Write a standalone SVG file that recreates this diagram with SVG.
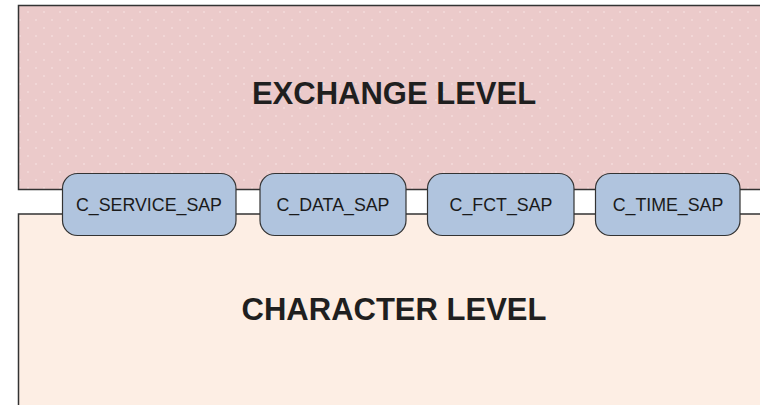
<svg xmlns="http://www.w3.org/2000/svg" width="760" height="405" viewBox="0 0 760 405">
<style>
.level{stroke:#333;stroke-width:1.5}
.sap rect{fill:#b0c4de;stroke:#333;stroke-width:1.2}
.sap text{font-family:"Liberation Sans",Arial,sans-serif;font-size:17.8px;fill:#1a1a1a;text-anchor:middle}
.title{font-family:"Liberation Sans",Arial,sans-serif;font-size:31px;font-weight:bold;fill:#1f1f1f;text-anchor:middle}
</style>
<defs>
<pattern id="dots" width="16" height="16" patternUnits="userSpaceOnUse">
<rect width="16" height="16" fill="#ebcaca"/>
<circle cx="4" cy="4" r="1" fill="#f3dada"/>
<circle cx="12" cy="12" r="1" fill="#f3dada"/>
</pattern>
</defs>
<rect width="760" height="405" fill="#ffffff"/>
<g id="exchange-level">
<rect class="level" x="18.5" y="5.5" width="760" height="184" fill="url(#dots)"/>
<text class="title" x="394" y="104">EXCHANGE LEVEL</text>
</g>
<g id="character-level">
<rect class="level" x="18.5" y="214" width="760" height="200" fill="#fdeee4"/>
<text class="title" x="394" y="320">CHARACTER LEVEL</text>
</g>
<g id="connectors"></g>
<g id="c-service-sap" class="sap">
<rect x="62.5" y="173.5" width="173.5" height="62" rx="15"/>
<text x="149" y="211">C_SERVICE_SAP</text>
</g>
<g id="c-data-sap" class="sap">
<rect x="260" y="173.5" width="146" height="62" rx="15"/>
<text x="333" y="211">C_DATA_SAP</text>
</g>
<g id="c-fct-sap" class="sap">
<rect x="427.5" y="173.5" width="146.5" height="62" rx="15"/>
<text x="501" y="211">C_FCT_SAP</text>
</g>
<g id="c-time-sap" class="sap">
<rect x="595.5" y="173.5" width="144.5" height="62" rx="15"/>
<text x="668" y="211">C_TIME_SAP</text>
</g>
</svg>
